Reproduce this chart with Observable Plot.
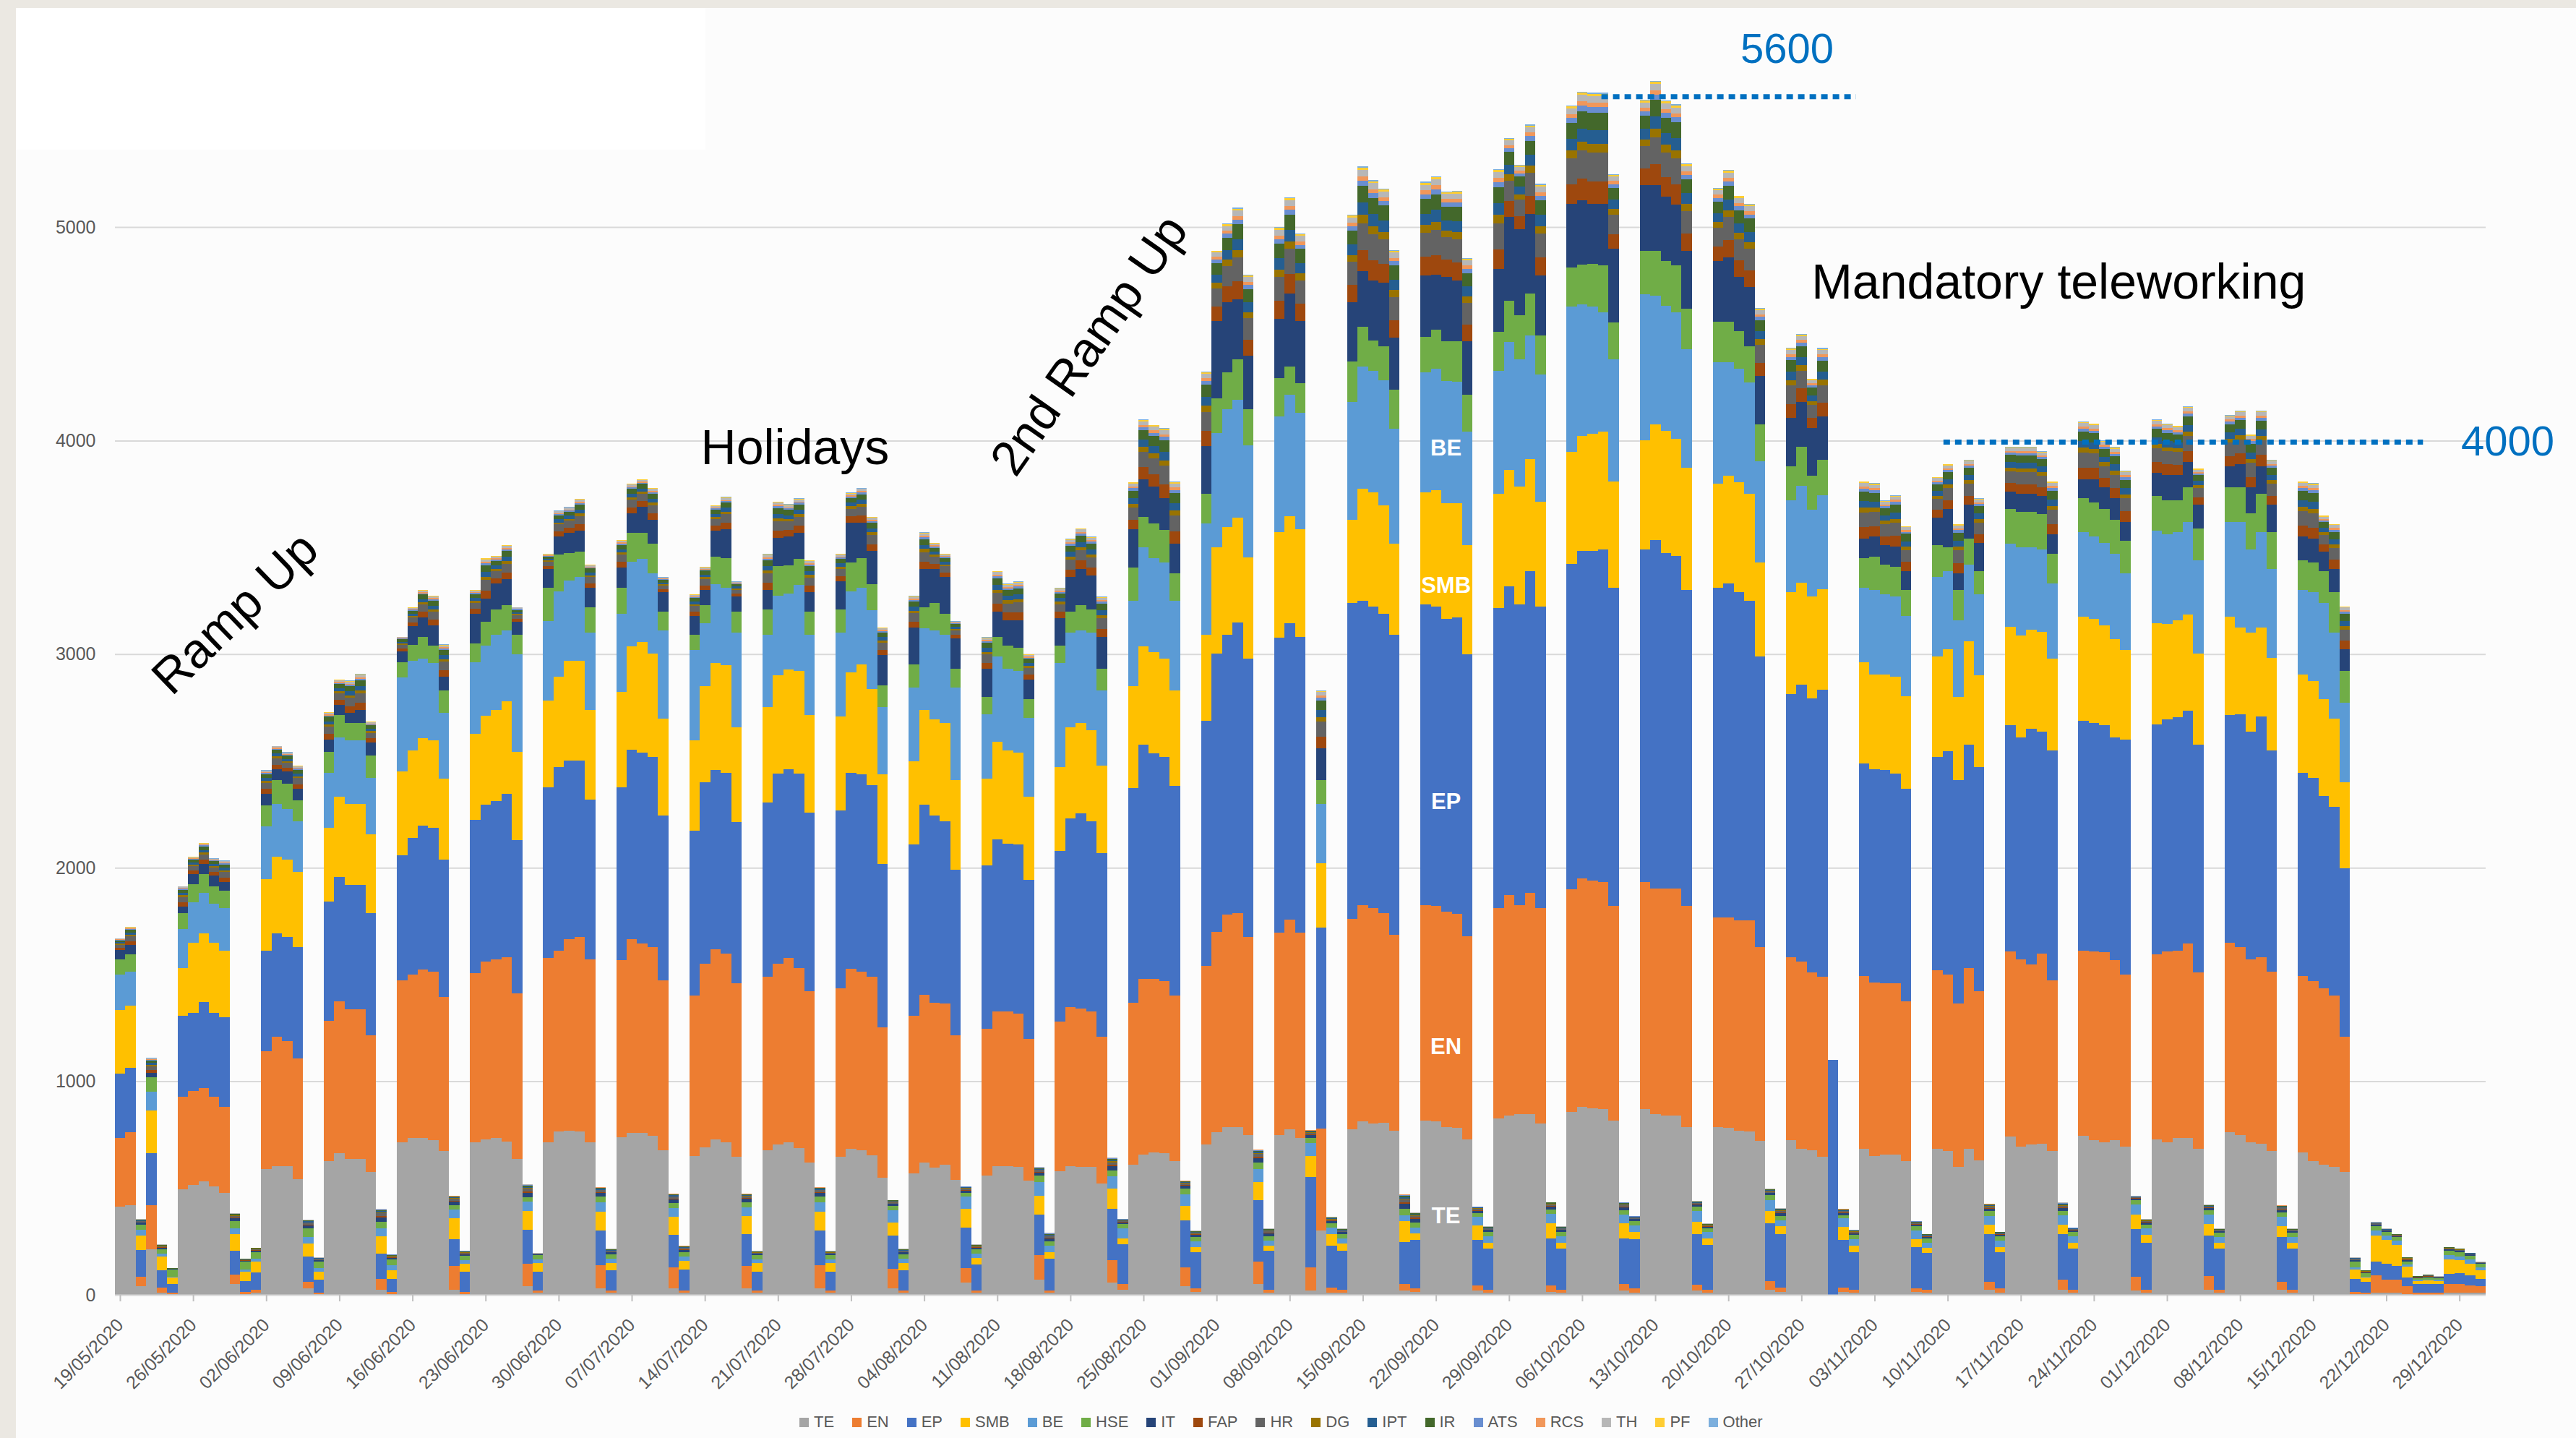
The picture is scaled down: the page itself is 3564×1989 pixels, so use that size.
<!DOCTYPE html>
<html><head><meta charset="utf-8">
<script src="https://cdn.jsdelivr.net/npm/d3@7"></script>
<script src="https://cdn.jsdelivr.net/npm/@observablehq/plot@0.6"></script>
<style>
html,body{margin:0;padding:0;}
body{width:3564px;height:1989px;overflow:hidden;position:relative;background:#fcfcfc;font-family:"Liberation Sans",Arial,sans-serif;}
#strip-left{position:absolute;left:0;top:0;width:22px;height:1989px;background:#ebe8e2;}
#strip-top{position:absolute;left:0;top:0;width:3564px;height:11px;background:#ebe8e2;}
#whitebox{position:absolute;left:22px;top:11px;width:954px;height:196px;background:#fff;}
#chart{position:absolute;left:0;top:0;}
#legend{position:absolute;left:1106px;top:1950px;height:34px;display:flex;align-items:center;gap:25px;font-size:22px;color:#595959;}
#legend .item{display:flex;align-items:center;gap:7px;}
#legend .sw{width:13px;height:13px;display:inline-block;}
</style></head><body>
<div id="strip-left"></div><div id="strip-top"></div><div id="whitebox"></div>
<div id="chart"></div>
<div id="legend"></div>
<script>
// ---- categories, colours, tick labels ----
const categories = ["TE","EN","EP","SMB","BE","HSE","IT","FAP","HR","DG","IPT","IR","ATS","RCS","TH","PF","Other"];
const colors = ["#A5A5A5","#ED7D31","#4472C4","#FFC000","#5B9BD5","#70AD47","#264478","#9E480E","#636363","#997300","#255E91","#43682B","#698ED0","#F1975A","#B7B7B7","#FFCD33","#7CAFDD"];
const tickLabels = ["19/05/2020","26/05/2020","02/06/2020","09/06/2020","16/06/2020","23/06/2020","30/06/2020","07/07/2020","14/07/2020","21/07/2020","28/07/2020","04/08/2020","11/08/2020","18/08/2020","25/08/2020","01/09/2020","08/09/2020","15/09/2020","22/09/2020","29/09/2020","06/10/2020","13/10/2020","20/10/2020","27/10/2020","03/11/2020","10/11/2020","17/11/2020","24/11/2020","01/12/2020","08/12/2020","15/12/2020","22/12/2020","29/12/2020"];
const yTicks = [0,1000,2000,3000,4000,5000];
const firstDay = "2020-05-19", endDay = "2021-01-01"; // one bar per day, 19/05/2020 .. 31/12/2020

// ---- daily values per category (rows of 7 days starting Tue 19/05) ----
const TE = [412,419,40,214,10,5,493,
514,531,507,479,50,5,10,
590,604,604,542,30,5,627,
662,635,635,575,25,5,714,
734,734,724,672,25,5,714,
728,734,718,637,41,10,714,
765,769,765,714,30,10,738,
759,759,745,678,30,10,651,
690,728,714,645,30,10,678,
703,714,687,620,30,10,645,
683,676,655,548,30,10,569,
620,596,610,538,58,10,558,
604,604,600,534,72,10,579,
604,600,600,521,58,25,610,
658,666,662,625,41,15,703,
761,786,786,749,52,10,749,
776,734,20,300,10,10,776,
811,803,807,769,20,12,817,
811,786,782,728,20,10,827,
838,848,848,803,15,10,858,
879,873,869,817,20,10,869,
848,838,838,786,20,10,786,
782,769,765,720,25,15,724,
683,678,645,0,15,10,683,
651,658,658,625,12,10,683,
672,600,683,631,25,10,741,
693,703,707,672,25,10,745,
724,714,724,693,20,10,728,
714,734,734,683,25,10,761,
749,714,707,672,25,10,666,
625,610,600,575,5,5,10,
10,10,5,0,0,0,10,
10,10,10];
const EN = [323,341,46,205,25,5,436,
439,436,422,400,45,8,15,
552,606,585,564,30,5,655,
713,703,703,641,50,10,759,
766,790,790,724,110,10,792,
834,838,864,773,103,10,862,
848,896,910,858,110,10,830,
906,885,885,795,100,10,751,
860,891,883,813,105,10,811,
848,862,843,803,110,10,792,
843,838,836,703,93,10,738,
786,773,755,678,66,12,687,
724,724,717,665,114,10,699,
744,740,728,689,103,27,759,
821,813,806,777,87,15,838,
939,993,1003,926,103,15,947,
982,962,107,480,25,15,986,
1013,1007,982,917,31,20,1009,
1009,1009,1001,951,25,15,983,
1034,976,1034,1007,30,15,1041,
1071,1067,1065,1003,30,20,1065,
1055,1065,1065,1034,28,15,982,
986,985,989,910,41,20,858,
879,832,844,0,20,15,810,
813,800,800,750,20,15,837,
828,765,847,792,35,20,868,
879,844,890,801,45,15,868,
885,889,844,807,66,15,865,
895,879,910,827,62,15,889,
881,858,875,842,35,15,827,
843,827,802,635,10,5,83,
62,62,35,10,10,10,41,
41,35,30];
const EP = [300,304,125,245,80,40,378,
366,404,390,421,110,50,80,
471,482,486,524,118,60,559,
582,581,581,573,118,60,585,
641,673,672,641,125,95,718,
734,741,765,720,159,90,802,
859,838,828,748,160,95,810,
889,896,889,771,150,100,770,
850,838,848,755,150,90,817,
890,885,911,836,160,90,832,
919,922,894,766,155,95,803,
890,875,852,774,190,120,765,
806,785,793,745,190,150,801,
882,915,889,858,242,186,1005,
1096,1055,1051,981,219,170,1148,
1303,1313,1359,1303,290,180,1382,
1386,1386,426,940,196,180,1478,
1426,1414,1401,1404,196,225,1407,
1404,1369,1389,1320,211,190,1406,
1447,1409,1506,1414,220,190,1523,
1533,1543,1557,1490,215,230,1555,
1631,1571,1557,1480,236,210,1542,
1562,1536,1496,1359,269,250,1231,
1296,1282,1344,1100,221,175,995,
997,999,983,993,190,170,999,
1045,1045,1045,1049,224,170,1059,
1038,1104,1040,1075,215,190,1076,
1069,1065,1042,1100,223,220,1079,
1084,1092,1090,1065,192,190,1064,
1090,1065,1127,1034,210,190,952,
953,900,883,786,60,50,62,
72,62,40,40,42,40,48,
50,45,35];
const SMB = [298,289,68,200,65,30,222,
328,322,328,310,80,47,50,
335,360,362,351,62,40,347,
376,381,381,368,80,40,393,
407,409,410,379,100,37,403,
414,427,431,414,89,40,404,
424,465,465,420,90,35,445,
482,517,484,455,85,40,424,
450,501,502,445,85,40,445,
459,466,479,455,90,40,440,
471,515,453,419,62,35,388,
444,449,461,420,89,30,406,
455,435,428,389,89,30,393,
428,423,426,410,93,27,476,
461,475,459,446,70,25,401,
497,503,490,474,83,25,492,
503,504,97,300,52,35,388,
526,535,508,427,97,30,526,
543,543,535,510,68,30,534,
543,551,526,491,70,30,526,
538,548,552,500,70,35,514,
541,571,548,572,58,30,487,
505,515,502,441,58,35,477,
477,478,471,0,62,30,474,
445,449,455,435,37,25,470,
479,390,486,428,45,25,459,
476,462,466,430,45,30,486,
487,466,461,420,66,35,472,
447,455,451,428,52,30,461,
403,463,414,434,50,30,461,
454,451,414,403,45,20,124,
114,100,52,15,15,15,66,
60,55,40];
const BE = [167,161,25,86,12,5,185,
192,188,186,200,28,10,15,
244,248,238,236,31,15,257,
277,296,296,263,40,25,439,
420,372,362,310,40,15,335,
330,350,332,455,45,15,373,
397,377,394,360,45,20,367,
398,388,376,411,40,20,424,
294,370,363,442,40,15,339,
372,357,404,376,45,15,391,
377,359,369,315,55,20,346,
380,417,412,434,56,20,304,
401,382,382,367,62,30,488,
442,432,457,352,58,45,400,
464,441,452,421,54,25,522,
534,552,552,527,62,25,542,
569,543,62,280,31,25,553,
569,569,586,538,27,28,560,
569,572,569,534,40,30,578,
600,595,577,595,45,30,681,
617,598,557,569,40,30,681,
605,587,594,557,52,30,571,
533,533,519,472,52,30,432,
454,407,440,0,40,30,348,
394,374,374,377,41,25,373,
366,360,359,380,41,30,390,
414,387,387,352,41,30,395,
385,386,399,360,48,30,435,
420,410,435,437,45,25,445,
497,390,447,418,45,25,394,
415,452,401,372,10,5,21,
21,21,10,5,5,5,20,
20,20,15];
const HSE = [72,79,25,69,20,35,72,
85,90,81,83,33,35,31,
100,110,118,99,41,30,99,
104,82,82,107,30,25,72,
77,104,82,104,20,20,88,
110,120,120,91,21,20,155,
173,129,117,120,25,20,120,
135,124,138,90,25,20,70,
86,129,140,100,25,20,120,
142,133,121,110,25,20,110,
135,138,121,103,20,20,109,
100,130,100,86,20,20,80,
90,110,110,90,31,20,80,
100,120,110,100,29,21,155,
141,162,150,129,25,20,138,
164,172,189,168,31,20,181,
130,140,21,110,20,20,190,
188,141,156,185,31,25,167,
185,187,190,173,20,20,181,
193,207,199,181,20,20,180,
186,199,220,173,20,20,203,
207,210,218,188,20,15,188,
188,173,169,173,21,20,158,
181,158,166,0,15,20,140,
155,140,140,120,21,20,147,
110,140,120,110,21,20,163,
165,165,165,140,21,20,160,
160,160,160,150,20,20,161,
160,150,160,150,21,20,160,
160,170,180,170,20,20,140,
140,150,190,149,25,15,21,
16,15,15,8,8,7,20,
20,18,15];
const IT = [43,46,9,20,9,2,33,
47,46,50,40,12,5,7,
55,51,58,52,14,7,56,
47,48,60,58,20,9,50,
85,90,95,66,16,9,140,
110,120,120,60,20,4,90,
86,95,99,90,16,9,95,
90,121,112,90,16,10,90,
70,121,136,70,14,7,90,
131,135,124,90,16,7,130,
189,169,155,141,10,9,170,
180,160,170,144,10,9,130,
120,120,130,90,14,14,130,
160,170,160,150,20,9,181,
178,172,150,138,14,10,224,
362,328,281,250,20,12,276,
344,291,14,150,10,9,276,
260,281,300,243,24,16,286,
255,301,284,250,10,9,293,
393,405,370,281,12,9,300,
300,282,290,345,14,9,308,
308,301,285,270,9,9,286,
301,256,280,226,10,12,225,
210,225,203,0,10,9,90,
95,90,95,90,9,7,131,
180,80,160,130,12,7,80,
85,85,85,90,14,7,90,
110,100,100,90,7,9,110,
120,120,120,110,9,7,100,
110,120,130,130,12,7,110,
110,90,110,104,7,5,7,
5,5,7,4,5,4,7,
5,5,4];
const FAP = [11,17,2,14,2,0,19,
16,20,16,20,4,2,2,
22,22,18,22,4,2,26,
24,30,34,20,6,2,14,
18,26,28,30,5,2,22,
38,26,32,14,6,1,14,
24,24,30,22,5,2,26,
28,26,30,14,5,3,20,
22,24,30,14,4,2,34,
34,30,32,30,5,2,26,
28,32,32,26,3,2,30,
34,24,22,16,3,2,30,
38,34,36,24,4,4,28,
36,38,36,38,6,2,44,
56,58,66,58,4,3,70,
66,74,86,76,6,4,86,
90,82,4,54,3,2,82,
98,94,88,82,7,5,88,
92,80,84,78,3,2,94,
74,60,84,86,4,2,92,
102,104,104,70,4,2,80,
98,90,94,82,2,2,68,
82,76,78,64,3,4,66,
64,46,64,0,3,2,54,
50,42,48,42,2,2,38,
42,46,42,42,4,2,42,
44,44,42,50,4,2,54,
52,44,48,48,2,2,50,
48,46,52,34,2,2,48,
50,50,52,42,4,2,52,
52,34,42,40,2,2,2,
2,2,2,1,2,1,2,
2,2,1];
const HR = [14,22,5,18,5,1,25,
21,26,21,26,7,3,4,
29,29,23,29,8,4,34,
31,39,44,26,12,5,18,
23,34,36,39,9,5,29,
49,34,42,18,12,2,18,
31,31,39,29,9,5,34,
36,34,39,18,9,6,26,
29,31,39,18,8,4,44,
44,39,42,39,9,4,34,
36,42,42,34,6,5,39,
44,31,29,21,6,5,39,
49,44,47,31,8,8,36,
47,49,47,49,12,5,57,
73,75,86,75,8,6,91,
86,96,112,99,12,7,112,
117,107,8,70,6,5,107,
127,122,114,107,14,9,114,
120,104,109,101,6,5,122,
96,78,109,112,7,5,120,
133,135,135,91,8,5,104,
127,117,122,107,5,5,88,
107,99,101,83,6,7,86,
83,60,83,0,6,5,70,
65,55,62,55,5,4,49,
55,60,55,55,7,4,55,
57,57,55,65,8,4,70,
68,57,62,62,4,5,65,
62,60,68,44,5,4,62,
65,65,68,55,7,4,68,
68,44,55,52,4,3,4,
3,3,4,2,3,2,4,
3,3,2];
const DG = [4,7,1,6,1,0,8,
6,8,6,8,2,1,1,
9,9,7,9,2,1,10,
10,12,14,8,4,1,6,
7,10,11,12,2,1,9,
15,10,13,6,4,0,6,
10,10,12,9,2,1,10,
11,10,12,6,2,2,8,
9,10,12,6,2,1,14,
14,12,13,12,2,1,10,
11,13,13,10,2,1,12,
14,10,9,6,2,1,12,
15,14,14,10,2,2,11,
14,15,14,15,4,1,18,
22,23,26,23,2,2,28,
26,30,34,30,4,2,34,
36,33,2,22,2,1,33,
39,38,35,33,4,2,35,
37,32,34,31,2,1,38,
30,24,34,34,2,1,37,
41,42,42,28,2,1,32,
39,36,38,33,1,1,27,
33,30,31,26,2,2,26,
26,18,26,0,2,1,22,
20,17,19,17,1,1,15,
17,18,17,17,2,1,17,
18,18,17,20,2,1,22,
21,18,19,19,1,1,20,
19,18,21,14,1,1,19,
20,20,21,17,2,1,21,
21,14,17,16,1,1,1,
1,1,1,0,1,0,1,
1,1,0];
const IPT = [7,10,2,8,2,0,11,
10,12,10,12,3,1,2,
13,13,11,13,4,2,16,
14,18,20,12,6,2,8,
11,16,17,18,4,2,13,
23,16,19,8,6,1,8,
14,14,18,13,4,2,16,
17,16,18,8,4,3,12,
13,14,18,8,4,2,20,
20,18,19,18,4,2,16,
17,19,19,16,3,2,18,
20,14,13,10,3,2,18,
23,20,22,14,4,4,17,
22,23,22,23,6,2,26,
34,35,40,35,4,3,42,
40,44,52,46,6,3,52,
54,49,4,32,3,2,49,
59,56,53,49,7,4,53,
55,48,50,47,3,2,56,
44,36,50,52,3,2,55,
61,62,62,42,4,2,48,
59,54,56,49,2,2,41,
49,46,47,38,3,3,40,
38,28,38,0,3,2,32,
30,25,29,25,2,2,23,
25,28,25,25,3,2,25,
26,26,25,30,4,2,32,
31,26,29,29,2,2,30,
29,28,31,20,2,2,29,
30,30,31,25,3,2,31,
31,20,25,24,2,1,2,
1,1,2,1,1,1,2,
1,1,1];
const IR = [9,14,3,11,3,1,15,
13,16,13,16,4,2,2,
18,18,14,18,4,2,21,
19,24,27,16,6,3,11,
14,21,22,24,5,3,18,
30,21,26,11,6,1,11,
19,19,24,18,5,3,21,
22,21,24,11,5,3,16,
18,19,24,11,4,2,27,
27,24,26,24,5,2,21,
22,26,26,21,3,3,24,
27,19,18,13,3,3,24,
30,27,29,19,4,4,22,
29,30,29,30,6,3,35,
45,46,53,46,4,3,56,
53,59,69,61,6,4,69,
72,66,4,43,3,3,66,
78,75,70,66,7,5,70,
74,64,67,62,3,3,75,
59,48,67,69,4,3,74,
82,83,83,56,4,3,64,
78,72,75,66,3,3,54,
66,61,62,51,3,4,53,
51,37,51,0,3,3,43,
40,34,38,34,3,2,30,
34,37,34,34,4,2,34,
35,35,34,40,4,2,43,
42,35,38,38,2,3,40,
38,37,42,27,3,2,38,
40,40,42,34,4,2,42,
42,27,34,32,2,2,2,
2,2,2,1,2,1,2,
2,2,1];
const ATS = [3,4,1,4,1,0,5,
4,5,4,5,1,0,1,
5,5,5,5,1,1,6,
6,7,8,5,2,1,4,
5,6,7,7,1,1,5,
10,6,8,4,2,0,4,
6,6,7,5,1,1,6,
7,6,7,4,1,1,5,
5,6,7,4,1,1,8,
8,7,8,7,1,1,6,
7,8,8,6,1,1,7,
8,6,5,4,1,1,7,
10,8,9,6,1,1,7,
9,10,9,10,2,1,11,
14,15,16,15,1,1,17,
16,18,21,19,2,1,21,
22,20,1,14,1,1,20,
24,23,22,20,3,1,22,
23,20,21,20,1,1,23,
18,15,21,21,1,1,23,
25,26,26,17,1,1,20,
24,22,23,20,1,1,17,
20,19,20,16,1,1,16,
16,11,16,0,1,1,14,
12,10,12,10,1,1,10,
10,11,10,10,1,1,10,
11,11,10,12,1,1,14,
13,11,12,12,1,1,12,
12,11,13,8,1,1,12,
12,12,13,10,1,1,13,
13,8,10,10,1,0,1,
0,0,1,0,0,0,1,
0,0,0];
const RCS = [2,3,0,3,0,0,4,
3,4,3,4,1,0,0,
4,4,4,4,1,0,5,
5,6,7,4,2,0,3,
4,5,6,6,1,0,4,
8,5,6,3,2,0,3,
5,5,6,4,1,0,5,
6,5,6,3,1,1,4,
4,5,6,3,1,0,7,
7,6,6,6,1,0,5,
6,6,6,5,1,0,6,
7,5,4,3,1,0,6,
8,7,7,5,1,1,6,
7,8,7,8,2,0,9,
11,12,13,12,1,1,14,
13,15,17,15,2,1,17,
18,16,1,11,1,0,16,
20,19,18,16,2,1,18,
18,16,17,16,1,0,19,
15,12,17,17,1,0,18,
20,21,21,14,1,0,16,
20,18,19,16,0,0,14,
16,15,16,13,1,1,13,
13,9,13,0,1,0,11,
10,8,10,8,0,0,8,
8,9,8,8,1,0,8,
9,9,8,10,1,0,11,
10,9,10,10,0,0,10,
10,9,10,7,0,0,10,
10,10,10,8,1,0,10,
10,7,8,8,0,0,0,
0,0,0,0,0,0,0,
0,0,0];
const TH = [3,5,2,4,2,0,5,
5,6,5,6,1,1,1,
7,7,5,7,2,1,8,
7,9,10,6,2,2,4,
5,8,8,9,2,2,7,
11,8,10,4,2,1,4,
7,7,9,7,2,2,8,
8,8,9,4,2,1,6,
7,7,9,4,2,1,10,
10,9,10,9,2,1,8,
8,10,10,8,1,2,9,
10,7,7,5,1,2,9,
11,10,11,7,2,2,8,
11,11,11,11,2,2,13,
17,17,20,17,2,1,21,
20,22,26,23,2,1,26,
27,25,2,16,1,2,25,
29,28,26,25,2,2,26,
28,24,25,23,1,2,28,
22,18,25,26,1,2,28,
31,31,31,21,2,2,24,
29,27,28,25,2,2,20,
25,23,23,19,1,1,20,
19,14,19,0,1,2,16,
15,13,14,13,2,1,11,
13,14,13,13,1,1,13,
13,13,13,15,2,1,16,
16,13,14,14,1,2,15,
14,14,16,10,2,1,14,
15,15,16,13,1,1,16,
16,10,13,12,1,1,1,
1,1,1,1,1,1,1,
1,1,1];
const PF = [1,2,0,1,0,0,2,
1,2,1,2,0,0,0,
2,2,2,2,0,0,3,
3,3,4,2,0,0,1,
2,3,3,3,0,0,2,
4,3,3,1,0,0,1,
3,3,3,2,0,0,3,
3,3,3,1,0,0,2,
2,3,3,1,0,0,4,
4,3,3,3,0,0,3,
3,3,3,3,0,0,3,
4,3,2,1,0,0,3,
4,4,4,3,0,0,3,
4,4,4,4,0,0,5,
6,6,7,6,0,0,7,
7,7,9,8,0,0,9,
9,8,0,5,0,0,8,
10,9,9,8,0,0,9,
9,8,8,8,0,0,9,
7,6,8,9,0,0,9,
10,10,10,7,0,0,8,
10,9,9,8,0,0,7,
8,8,8,6,0,0,7,
6,5,6,0,0,0,5,
5,4,5,4,0,0,4,
4,5,4,4,0,0,4,
5,5,4,5,0,0,5,
5,5,5,5,0,0,5,
5,5,5,4,0,0,5,
5,5,5,4,0,0,5,
5,4,4,4,0,0,0,
0,0,0,0,0,0,0,
0,0,0];
const Other = [1,1,0,1,0,0,1,
1,1,1,1,0,0,0,
1,1,1,1,0,0,1,
1,2,2,1,0,0,1,
1,1,2,2,0,0,1,
2,1,1,1,0,0,1,
1,1,2,1,0,0,1,
2,1,2,1,0,0,1,
1,1,2,1,0,0,2,
2,2,1,2,0,0,1,
2,1,1,1,0,0,2,
2,1,1,1,0,0,2,
2,2,1,1,0,0,2,
1,2,1,2,0,0,2,
2,3,3,3,0,0,4,
3,5,4,3,0,0,4,
5,4,0,3,0,0,4,
6,6,5,4,0,0,5,
4,4,5,4,0,0,6,
5,3,5,4,0,0,4,
5,6,6,4,0,0,4,
6,5,6,4,0,0,4,
4,3,4,4,0,0,3,
4,2,4,0,0,0,3,
3,2,3,2,0,0,2,
2,2,2,2,0,0,2,
2,2,2,3,0,0,3,
2,2,3,3,0,0,3,
3,2,2,2,0,0,3,
3,3,2,2,0,0,2,
2,2,2,2,0,0,0,
0,0,0,0,0,0,0,
0,0,0];

// ---- annotations ----
const notes = [
  {text: "Ramp Up", date: "2020-05-30T12:00Z", value: 3192, angle: -44},
  {text: "Holidays", date: "2020-07-23T02:00Z", value: 3964, angle: 0},
  {text: "2nd Ramp Up", date: "2020-08-20T07:00Z", value: 4448, angle: -55},
  {text: "Mandatory teleworking", date: "2020-11-21T02:00Z", value: 4739, angle: 0}
];
const levelLabels = [
  {text: "5600", date: "2020-10-26T02:00Z", value: 5833},
  {text: "4000", date: "2021-01-03T02:00Z", value: 3995}
];
const levelLines = [
  {from: "2020-10-08T08:00Z", to: "2020-11-01T17:00Z", value: 5612},
  {from: "2020-11-10T02:00Z", to: "2020-12-26T00:00Z", value: 3995}
];
const barLabels = [
  {text: "BE", value: 3964}, {text: "SMB", value: 3324}, {text: "EP", value: 2309},
  {text: "EN", value: 1161}, {text: "TE", value: 369}
];
const barLabelDate = "2020-09-23T10:00Z";

// ---- build table ----
const series = {TE, EN, EP, SMB, BE, HSE, IT, FAP, HR, DG, IPT, IR, ATS, RCS, TH, PF, Other};
const start = new Date(firstDay + "T00:00Z"), end = new Date(endDay + "T00:00Z");
const dates = d3.utcDay.range(start, end);
const rows = [];
for (const c of categories) {
  const arr = series[c];
  if (arr.length !== dates.length) console.warn(c, arr.length, dates.length);
  arr.forEach((v, i) => { if (i < dates.length) rows.push({date: dates[i], cat: c, value: v}); });
}
const parseTick = d3.utcParse("%d/%m/%Y");
const tickDates = tickLabels.map(parseTick);
const fmt = d3.utcFormat("%d/%m/%Y");
const dd = s => new Date(s);

const font = "'Liberation Sans', Arial, sans-serif";
const chart = Plot.plot({
  width: 3564, height: 1941,
  marginLeft: 159, marginRight: 125, marginTop: 0, marginBottom: 150,
  style: {background: "transparent", fontFamily: font, overflow: "visible"},
  x: {type: "utc", domain: [start, end], axis: null},
  y: {domain: [0, 6063], axis: null},
  color: {domain: categories, range: colors},
  marks: [
    Plot.gridY(yTicks, {stroke: "#d9d9d9", strokeOpacity: 1, strokeWidth: 2}),
    Plot.axisY(yTicks, {tickSize: 0, tickPadding: 27, fontSize: 25, fill: "#595959", tickFormat: d3.format("d"), label: null}),
    Plot.rectY(rows, {x: "date", y: "value", fill: "cat", interval: d3.utcDay, inset: 0, shapeRendering: "crispEdges"}),
    Plot.ruleY([0], {stroke: "#d9d9d9", strokeWidth: 2}),
    Plot.axisX(tickDates, {tickSize: 9, tickPadding: 28, tickRotate: -45, fontSize: 25, fill: "#595959", stroke: "#bfbfbf", strokeWidth: 2, tickFormat: fmt, dx: 7, label: null}),
    Plot.ruleY(levelLines, {x1: d => dd(d.from), x2: d => dd(d.to), y: "value", stroke: "#0070C0", strokeWidth: 7, strokeDasharray: "9,7"}),
    Plot.text(notes, {x: d => dd(d.date), y: "value", text: "text", rotate: "angle", fontSize: 68, fill: "#000", fontFamily: font}),
    Plot.text(levelLabels, {x: d => dd(d.date), y: "value", text: "text", fontSize: 58, fill: "#0070C0", fontFamily: font}),
    Plot.text(barLabels, {x: () => dd(barLabelDate), y: "value", text: "text", fontSize: 31, fontWeight: "bold", fill: "#ffffff", fontFamily: font})
  ]
});
document.getElementById("chart").append(chart);

// ---- legend ----
const legend = document.getElementById("legend");
categories.forEach((c, i) => {
  const item = document.createElement("span");
  item.className = "item";
  const sw = document.createElement("span");
  sw.className = "sw"; sw.style.background = colors[i];
  const lab = document.createElement("span");
  lab.textContent = c;
  item.append(sw, lab);
  legend.append(item);
});
</script>
</body></html>
